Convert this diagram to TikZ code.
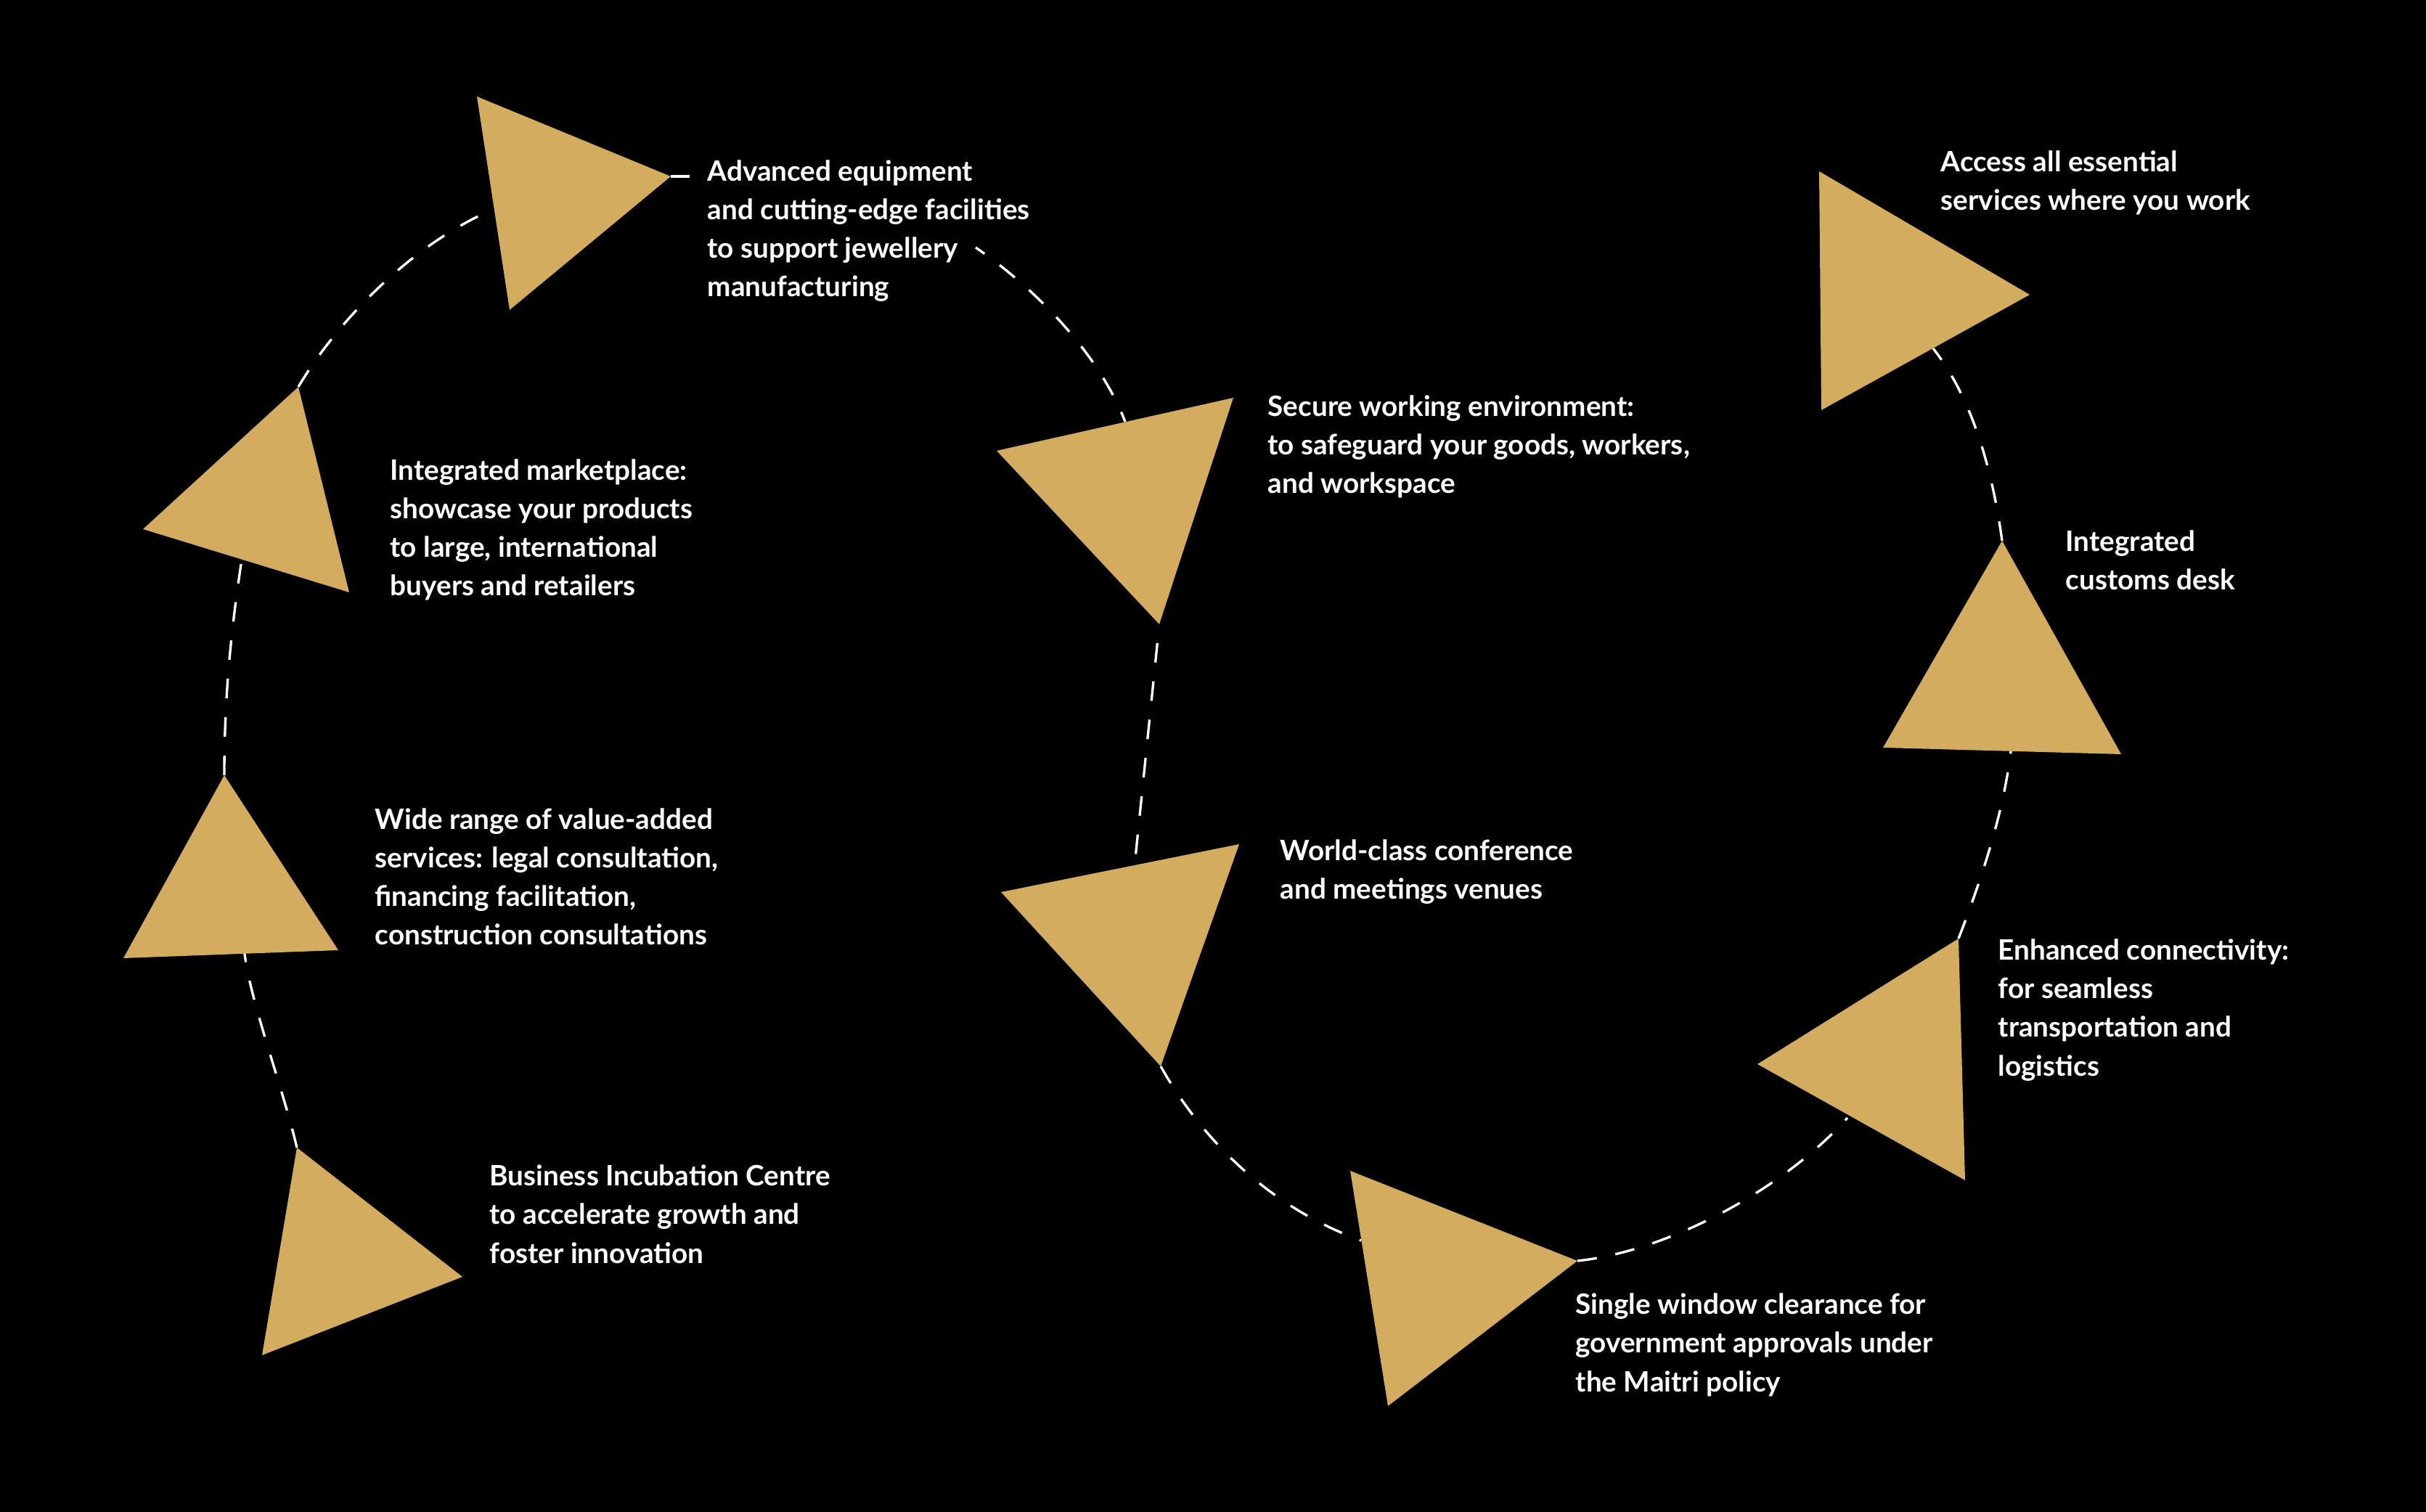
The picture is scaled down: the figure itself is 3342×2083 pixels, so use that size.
\documentclass[tikz,border=0pt]{standalone}
\usepackage{fontspec}
\setmainfont{Lato}
\definecolor{gold}{RGB}{212,172,96}
\begin{document}
\begin{tikzpicture}[x=0.01cm,y=-0.01cm,
  tri/.style={fill=gold},
  link/.style={white, line width=0.95pt, dash pattern=on 0.27cm off 0.26cm},
  lbl/.style={text=white, anchor=base west, align=left, inner sep=0pt,
              font=\fontsize{11}{15.09}\selectfont\bfseries}]
\fill[black] (0,0) rectangle (3342,2083);
\useasboundingbox (0,0) rectangle (3342,2083);

% triangle vertices
\coordinate (t1a) at (657,133);  \coordinate (t1b) at (924,243);  \coordinate (t1c) at (702,427);
\coordinate (t2a) at (411,533);  \coordinate (t2b) at (197,729);  \coordinate (t2c) at (481,816);
\coordinate (t3a) at (309,1068); \coordinate (t3b) at (170,1320); \coordinate (t3c) at (466,1309);
\coordinate (t4a) at (409,1581); \coordinate (t4b) at (361,1867); \coordinate (t4c) at (637,1759);
\coordinate (t5a) at (1373,621); \coordinate (t5b) at (1699,548); \coordinate (t5c) at (1597,860);
\coordinate (t6a) at (1379,1229);\coordinate (t6b) at (1707,1163);\coordinate (t6c) at (1599,1469);
\coordinate (t7a) at (1860,1613);\coordinate (t7b) at (2173,1737);\coordinate (t7c) at (1912,1937);
\coordinate (t8a) at (2421,1466);\coordinate (t8b) at (2698,1293);\coordinate (t8c) at (2707,1626);
\coordinate (t9a) at (2758,745); \coordinate (t9b) at (2594,1030);\coordinate (t9c) at (2922,1039);
\coordinate (t10a) at (2506,236);\coordinate (t10b) at (2796,406);\coordinate (t10c) at (2509,565);

% connector end points on triangle edges
\coordinate (e3) at (337,1314);
\coordinate (e2) at (333,771);
\coordinate (e1) at (680,288);
\coordinate (g1) at (950,243);
\coordinate (s5) at (1344,341);
\coordinate (e5) at (1550,581);
\coordinate (e6) at (1563,1192);
\coordinate (e7) at (1875,1709);
\coordinate (e8) at (2545,1540);
\coordinate (e9) at (2770,1035);
\coordinate (e10) at (2663,480);

% dashed connectors
\draw[link] (t4a) .. controls (390,1500) and (345,1380) .. (e3);
\draw[link] (t3a) .. controls (309,960) and (318,870) .. (e2);
\draw[link] (t2a) .. controls (460,450) and (560,340) .. (e1);
\draw[link] (t1b) -- (g1);
\draw[link, dash phase=0.12cm] (s5) .. controls (1430,400) and (1515,490) .. (e5);
\draw[link, dash phase=0.27cm] (t5c) -- (e6);
\draw[link] (t6c) .. controls (1650,1560) and (1740,1660) .. (e7);
\draw[link] (t7b) .. controls (2290,1725) and (2450,1645) .. (e8);
\draw[link] (t8b) .. controls (2730,1210) and (2760,1120) .. (e9);
\draw[link] (t9a) .. controls (2745,650) and (2718,550) .. (e10);

% triangles
\fill[tri] (t1a) -- (t1b) -- (t1c) -- cycle;
\fill[tri] (t2a) -- (t2b) -- (t2c) -- cycle;
\fill[tri] (t3a) -- (t3b) -- (t3c) -- cycle;
\fill[tri] (t4a) -- (t4b) -- (t4c) -- cycle;
\fill[tri] (t5a) -- (t5b) -- (t5c) -- cycle;
\fill[tri] (t6a) -- (t6b) -- (t6c) -- cycle;
\fill[tri] (t7a) -- (t7b) -- (t7c) -- cycle;
\fill[tri] (t8a) -- (t8b) -- (t8c) -- cycle;
\fill[tri] (t9a) -- (t9b) -- (t9c) -- cycle;
\fill[tri] (t10a) -- (t10b) -- (t10c) -- cycle;

% labels (base anchor = baseline of the last line)
\node[lbl] (n1) at (974,409) {Advanced equipment\\and cutting-edge facilities\\to support jewellery\\manufacturing};
\node[lbl] (n2) at (537,821) {Integrated marketplace:\\showcase your products\\to large, international\\buyers and retailers};
\node[lbl] (n3) at (516,1302) {Wide range of value-added\\services: legal consultation,\\financing facilitation,\\construction consultations};
\node[lbl] (n4) at (674,1740) {Business Incubation Centre\\to accelerate growth and\\foster innovation};
\node[lbl] (n5) at (1746,680) {Secure working environment:\\to safeguard your goods, workers,\\and workspace};
\node[lbl] (n6) at (1763,1239) {World-class conference\\and meetings venues};
\node[lbl] (n7) at (2170,1917) {Single window clearance for\\government approvals under\\the Maitri policy};
\node[lbl] (n8) at (2752,1482) {Enhanced connectivity:\\for seamless\\transportation and\\logistics};
\node[lbl] (n9) at (2845,813) {Integrated\\customs desk};
\node[lbl] (n10) at (2673,290) {Access all essential\\services where you work};
\end{tikzpicture}
\end{document}
